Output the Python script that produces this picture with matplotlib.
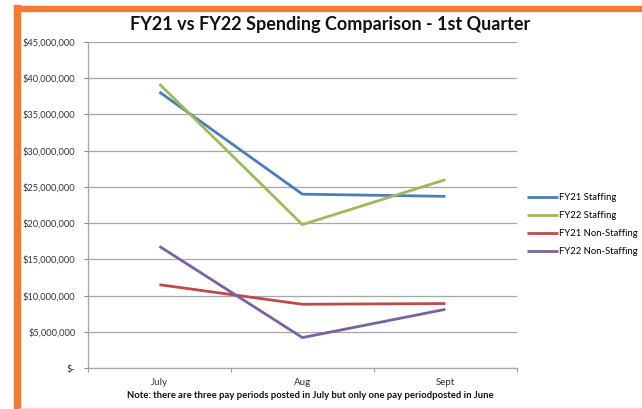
import matplotlib.pyplot as plt
from matplotlib.patches import Rectangle
from matplotlib.ticker import FuncFormatter, FixedLocator

plt.rcParams['font.family'] = ['Lato', 'DejaVu Sans']

# data (dollars)
months = ["July", "Aug", "Sept"]
fy21_staffing = [38100000, 24000000, 23700000]
fy22_staffing = [39200000, 19800000, 26000000]
fy21_non_staffing = [11500000, 8800000, 8900000]
fy22_non_staffing = [16800000, 4200000, 8100000]

series_names = ["FY21 Staffing", "FY22 Staffing", "FY21 Non-Staffing", "FY22 Non-Staffing"]
series_colors = ["#4A7EBB", "#9BBB59", "#BE4B48", "#7D60A0"]

fig = plt.figure(figsize=(6.42, 4.09), dpi=100)
ax = fig.add_axes([0.137, 0.1002, 0.668, 0.797])

x = list(range(len(months)))
for vals, name, col in zip([fy21_staffing, fy22_staffing, fy21_non_staffing, fy22_non_staffing],
                           series_names, series_colors):
    ax.plot(x, vals, color=col, lw=2.0, label=name, solid_capstyle="butt")

ax.set_ylim(0, 45000000)
ax.set_xlim(-0.5, 2.5)
ax.set_yticks(range(0, 45000001, 5000000))


def money(v, pos):
    if v == 0:
        return "$-"
    return "${:,.0f}".format(v)


ax.yaxis.set_major_formatter(FuncFormatter(money))
ax.set_xticks(x)
ax.set_xticklabels(months)
ax.xaxis.set_minor_locator(FixedLocator([-0.5, 0.5, 1.5, 2.5]))
ax.tick_params(axis="x", which="major", length=0, pad=7, labelsize=7, colors="#333333")
ax.tick_params(axis="x", which="minor", length=3, color="#888888")
ax.tick_params(axis="y", length=3, color="#888888", labelsize=6.7, colors="#333333", pad=6)

ax.grid(axis="y", color="#A6A6A6", lw=0.9)
ax.set_axisbelow(True)
for s in ["top", "right"]:
    ax.spines[s].set_visible(False)
for s in ["left", "bottom"]:
    ax.spines[s].set_color("#A6A6A6")
    ax.spines[s].set_linewidth(0.9)

fig.text(0.514, 0.94, "FY21 vs FY22 Spending Comparison - 1st Quarter",
         ha="center", va="center", fontsize=13, fontweight="bold", color="#111111")
fig.text(0.483, 0.032, "Note: there are three pay periods posted in July but only one pay periodposted in June",
         ha="center", va="center", fontsize=6.8, fontweight="bold", color="#111111")

ax.legend(loc="center left", bbox_to_anchor=(1.005, 0.44), frameon=False, fontsize=6.8,
          handlelength=3.2, handletextpad=0.1, labelspacing=0.95)

# orange frame
fig.patches.append(Rectangle((14 / 642, 0), 6 / 642, 404 / 409, transform=fig.transFigure,
                             color="#F47B30", zorder=0))
fig.patches.append(Rectangle((14 / 642, (409 - 10.7) / 409), 628 / 642, 5 / 409,
                             transform=fig.transFigure, color="#F47B30", zorder=0))
fig.patches.append(Rectangle((20 / 642, 0), 622 / 642, 1.5 / 409, transform=fig.transFigure,
                             color="#FDD9C0", zorder=0))

fig.savefig("out.png", dpi=100)
